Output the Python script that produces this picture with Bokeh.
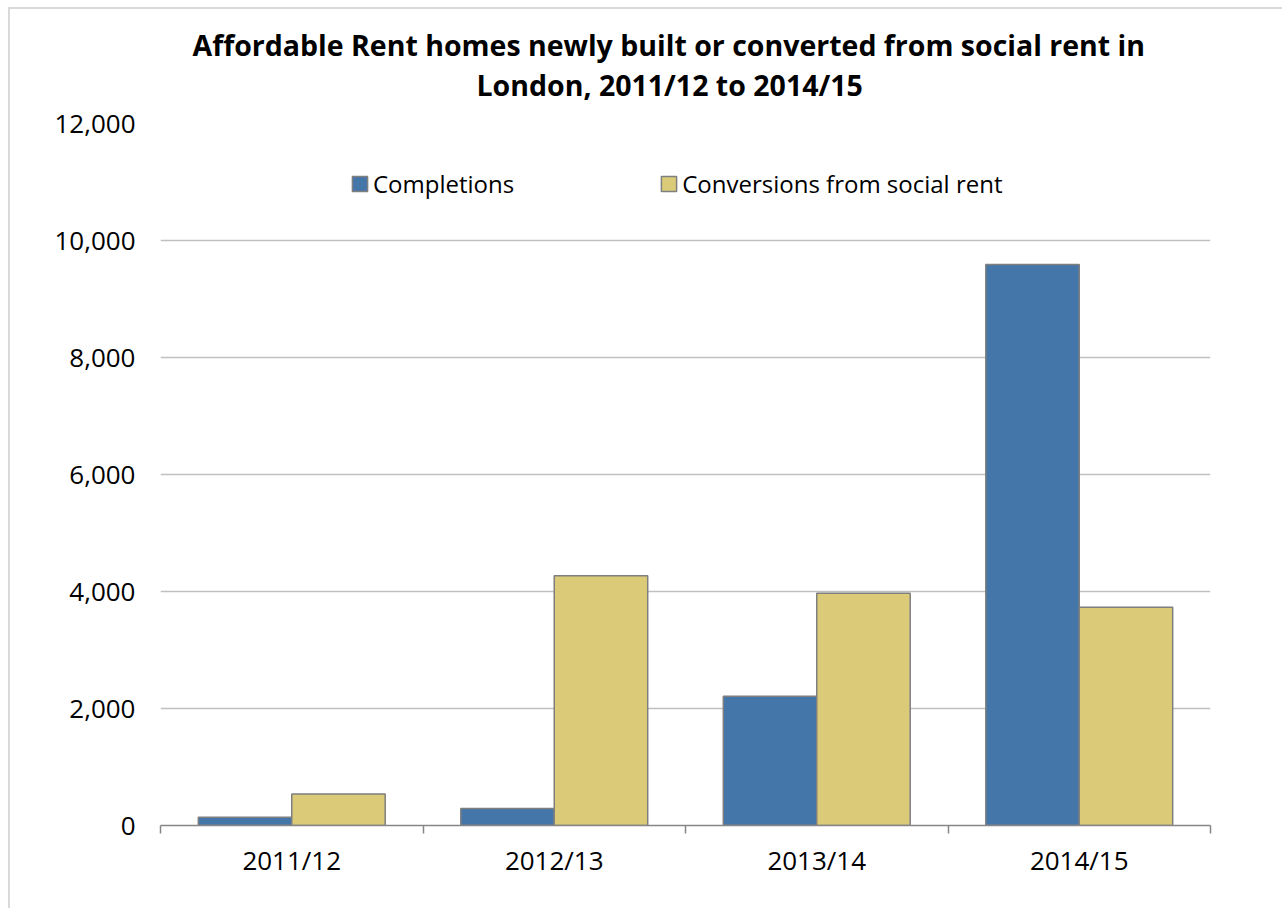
from bokeh.plotting import figure
from bokeh.models import (ColumnDataSource, Range1d, FixedTicker, NumeralTickFormatter,
                          Title, Legend)
from bokeh.transform import dodge
from bokeh.embed import file_html
from bokeh.resources import INLINE

# ---- data ----
categories = ["2011/12", "2012/13", "2013/14", "2014/15"]
completions = [140, 290, 2210, 9590]
conversions = [540, 4270, 3970, 3730]
series_names = ["Completions", "Conversions from social rent"]
y_ticks = [0, 2000, 4000, 6000, 8000, 10000, 12000]
title_lines = ["Affordable Rent homes newly built or converted from social rent in",
               "London, 2011/12 to 2014/15"]

idx = list(range(len(categories)))
source = ColumnDataSource(dict(x=idx, cat=categories, comp=completions, conv=conversions))

FONT = "Open Sans"
BLUE = "#4576A9"
GOLD = "#DBCB78"
EDGE = "#7F7F7F"

p = figure(width=1274, height=901, output_backend="svg", toolbar_location=None,
           x_range=Range1d(-0.5, len(categories) - 0.5), y_range=Range1d(y_ticks[0], y_ticks[-1]),
           min_border_left=150, min_border_right=74, min_border_top=114, min_border_bottom=85,
           title=None,
           styles={"margin-left": "8px", "margin-top": "7px",
                   "border-left": "2px solid #d9d9d9", "border-top": "2px solid #d9d9d9"})
p.outline_line_color = None
p.background_fill_color = "white"
p.border_fill_color = "white"

bw = 0.356
r1 = p.vbar(x=dodge("x", -bw / 2, range=p.x_range), top="comp", width=bw, bottom=0,
            source=source, fill_color=BLUE, line_color=EDGE, line_width=1.5)
r2 = p.vbar(x=dodge("x", bw / 2, range=p.x_range), top="conv", width=bw, bottom=0,
            source=source, fill_color=GOLD, line_color=EDGE, line_width=1.5)

# grid
p.xgrid.grid_line_color = None
p.ygrid.grid_line_color = "#C0C0C0"
p.ygrid.grid_line_width = 1.5
p.ygrid.ticker = FixedTicker(ticks=y_ticks)

# y axis
ya = p.yaxis[0]
ya.ticker = FixedTicker(ticks=y_ticks)
ya.formatter = NumeralTickFormatter(format="0,0")
ya.axis_line_color = None
ya.major_tick_line_color = None
ya.minor_tick_line_color = None
ya.major_tick_out = 0
ya.major_label_standoff = 25
ya.major_label_text_font = FONT
ya.major_label_text_font_size = "26px"
ya.major_label_text_color = "black"

# x axis (labels at centres, ticks at boundaries)
xa = p.xaxis[0]
xa.ticker = FixedTicker(ticks=idx, minor_ticks=[i - 0.5 for i in idx] + [idx[-1] + 0.5])
xa.major_label_overrides = {i: c for i, c in zip(idx, categories)}
xa.axis_line_color = "#868686"
xa.axis_line_width = 1.5
xa.major_tick_line_color = None
xa.major_tick_out = 0
xa.major_tick_in = 0
xa.minor_tick_line_color = "#868686"
xa.minor_tick_line_width = 1.5
xa.minor_tick_out = 8
xa.minor_tick_in = 0
xa.major_label_standoff = 8
xa.major_label_text_font = FONT
xa.major_label_text_font_size = "26px"
xa.major_label_text_color = "black"

# legend
legend = Legend(items=[(series_names[0], [r1]), (series_names[1], [r2])],
                orientation="horizontal", location=(190, 625),
                label_text_font=FONT, label_text_font_size="24px", label_text_color="black",
                glyph_width=19, glyph_height=19, label_standoff=4, spacing=145,
                padding=0, margin=0, border_line_color=None, background_fill_alpha=0)
p.add_layout(legend, "center")

# title: two lines (first added sits nearest the frame)
spacer = Title(text=" ", text_font=FONT, text_font_size="13px", standoff=0)
t2 = Title(text=title_lines[1], align="left", text_font=FONT, text_font_size="28.5px",
           text_font_style="bold", text_color="black", offset=316, standoff=0)
t1 = Title(text=title_lines[0], align="left", text_font=FONT, text_font_size="28.5px",
           text_font_style="bold", text_color="black", offset=32, standoff=0)
p.add_layout(spacer, "above")
p.add_layout(t2, "above")
p.add_layout(t1, "above")

open("out.html", "w").write(file_html(p, INLINE))
